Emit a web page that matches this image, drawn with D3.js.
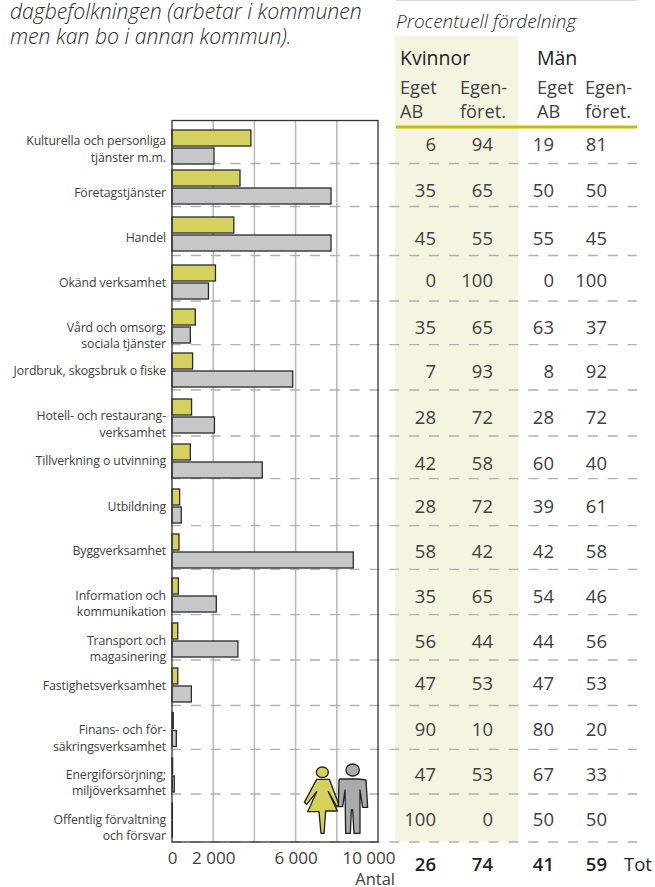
<!DOCTYPE html>
<html><head><meta charset="utf-8">
<script src="https://cdn.jsdelivr.net/npm/d3@7"></script>
<style>html,body{margin:0;padding:0;background:#fff}svg{display:block}text{font-family:"Open Sans","Noto Sans",sans-serif;fill:#404040}</style>
</head><body><div id="c"></div>
<script>
const categories=[["Kulturella och personliga","tjänster m.m."],["Företagstjänster"],["Handel"],["Okänd verksamhet"],["Vård och omsorg;","sociala tjänster"],["Jordbruk, skogsbruk o fiske"],["Hotell- och restaurang-","verksamhet"],["Tillverkning o utvinning"],["Utbildning"],["Byggverksamhet"],["Information och","kommunikation"],["Transport och","magasinering"],["Fastighetsverksamhet"],["Finans- och för-","säkringsverksamhet"],["Energiförsörjning;","miljöverksamhet"],["Offentlig förvaltning","och försvar"]];
const women=[3830,3300,3000,2110,1130,1000,950,890,370,340,310,280,280,60,30,20];
const men=[2040,7720,7720,1770,890,5860,2060,4380,450,8800,2150,3200,940,210,110,20];
const kvEget=[6,35,45,0,35,7,28,42,28,58,35,56,47,90,47,100];
const kvEgen=[94,65,55,100,65,93,72,58,72,42,65,44,53,10,53,0];
const manEget=[19,50,55,0,63,8,28,60,39,42,54,44,47,80,67,50];
const manEgen=[81,50,45,100,37,92,72,40,61,58,46,56,53,20,33,50];
const totals=[26,74,41,59];
const tickLabels=[0,2000,6000,10000];
const gridTicks=[2000,4000,6000,8000];

// layout
const W=655,H=887;
const barTops=[130,170,217,265,309,353,399,444,489,534,578,623,668,712.5,758,803];
const rowLines=[163.5,206.5,255.5,301,344.7,390,436,478.7,525.7,569.3,614.7,660,705.5,749.3,794,842];
const numBase=[151,197,245,287,334,378,424,470,513,558,603,648,690,736,781,826];
const catCentre=[[139.5,156.5],[191.5],[236.5],[282],[326.5,343],[369.5],[415,432],[460],[506],[550],[595,611],[640,656],[685],[729,746],[774,790],[819,835]];
const barH=16;
const x=d3.scaleLinear().domain([0,10000]).range([172,378]);
const idx=categories.map((d,i)=>i);
const y=d3.scaleOrdinal().domain(idx).range(barTops);
const colX=[436,493,554,607];

const svg=d3.select("#c").append("svg").attr("width",W).attr("height",H);
svg.append("rect").attr("x",396).attr("y",0).attr("width",241).attr("height",1).attr("fill","#dcdcdc");
svg.append("rect").attr("x",395).attr("y",36).attr("width",123).attr("height",805).attr("fill","#f5f4e1");

svg.selectAll(".t").data([["dagbefolkningen (arbetar i kommunen",19],["men kan bo i annan kommun).",44]]).join("text")
 .attr("x",10).attr("y",d=>d[1]).attr("font-size",21.2).attr("font-style","italic").attr("font-weight",300).attr("style","fill:#2a2a2a").text(d=>d[0]);
svg.append("text").attr("x",396).attr("y",28).attr("font-size",19).attr("font-style","italic").attr("font-weight",300).attr("style","fill:#2a2a2a").text("Procentuell fördelning");

const hdr=[["Kvinnor",400,65,19.5,500],["Män",537,65,19.5,500],["Eget",400,94,18.2,400],["AB",400,118,18.2,400],["Egen-",460,94,18.2,400],["föret.",460,118,18.2,400],["Eget",537,94,18.2,400],["AB",537,118,18.2,400],["Egen-",585,94,18.2,400],["föret.",585,118,18.2,400]];
svg.selectAll(".h").data(hdr).join("text").attr("x",d=>d[1]).attr("y",d=>d[2]).attr("font-size",d=>d[3]).attr("font-weight",d=>d[4]).attr("style",d=>d[4]==500?"fill:#222":null).text(d=>d[0]);
svg.append("rect").attr("x",396).attr("y",125.5).attr("width",241).attr("height",3).attr("fill","#c3bf00");

svg.append("g").selectAll("line").data(gridTicks).join("line").attr("x1",d=>x(d)).attr("x2",d=>x(d)).attr("y1",121).attr("y2",842).attr("stroke","#b8b8b8").attr("stroke-width",1.5);
svg.append("g").selectAll("line").data(rowLines).join("line").attr("x1",171).attr("x2",637).attr("y1",d=>d).attr("y2",d=>d).attr("stroke","#b0b0b0").attr("stroke-width",1.3).attr("stroke-dasharray","10 9.85");

const bars=svg.append("g");
bars.selectAll(".w").data(idx).join("rect").attr("x",x(0)).attr("y",i=>y(i)).attr("width",i=>x(women[i])-x(0)).attr("height",barH).attr("fill","#d4d15f").attr("stroke","#2a2a2a").attr("stroke-width",1.3);
bars.selectAll(".m").data(idx).join("rect").attr("x",x(0)).attr("y",i=>y(i)+barH+2).attr("width",i=>x(men[i])-x(0)).attr("height",barH).attr("fill","#c6c7c9").attr("stroke","#2a2a2a").attr("stroke-width",1.3);

svg.append("rect").attr("x",172).attr("y",120.5).attr("width",206).attr("height",721.5).attr("fill","none").attr("stroke","#333").attr("stroke-width",1.3);

categories.forEach((lines,i)=>lines.forEach((l,j)=>{
 svg.append("text").attr("x",166).attr("y",catCentre[i][j]+5).attr("text-anchor","end").attr("font-size",12.3).attr("font-weight",400).attr("letter-spacing",-0.1).text(l);
}));

const ax=svg.append("g").attr("transform","translate(0,842)").call(d3.axisBottom(x).tickValues(tickLabels).tickSize(0).tickPadding(10).tickFormat(d=>d3.format(",")(d).replace(",","\u00a0")));
ax.select(".domain").remove();
ax.selectAll("text").attr("font-size",17).attr("font-weight",400).attr("font-family",'"Open Sans"').attr("fill","#404040")
  .attr("text-anchor",d=>d===10000?"end":"middle").attr("dx",d=>d===10000?17:0);
svg.append("text").attr("x",395).attr("y",885).attr("text-anchor","end").attr("font-size",16.5).attr("font-weight",400).text("Antal");

[kvEget,kvEgen,manEget,manEgen].forEach((col,c)=>{
 svg.append("g").selectAll("text").data(col).join("text").attr("x",colX[c]).attr("y",(d,i)=>numBase[i]).attr("text-anchor","end").attr("font-size",18.5).attr("font-weight",400).text(d=>d);
});
svg.append("g").selectAll("text").data(totals).join("text").attr("x",(d,i)=>colX[i]).attr("y",871).attr("text-anchor","end").attr("font-size",18.5).attr("font-weight",600).attr("style","fill:#222").text(d=>d);
svg.append("text").attr("x",624).attr("y",871).attr("font-size",18.5).attr("font-weight",500).attr("style","fill:#222").text("Tot");

const fig=svg.append("g").attr("transform","translate(295,755) scale(0.3333)").attr("stroke","#222").attr("stroke-width",4).attr("stroke-linejoin","round");
fig.append("ellipse").attr("cx",82).attr("cy",52).attr("rx",18).attr("ry",16).attr("fill","#d4d15f");
fig.append("path").attr("d","M65 73H103L132 150L125 155L100 110L127 168H92L87 235H78L72 170H38L65 110L35 148L28 142Z").attr("fill","#d4d15f");
fig.append("ellipse").attr("cx",173).attr("cy",45).attr("rx",20).attr("ry",18).attr("fill","#a9aaac");
fig.append("path").attr("d","M135 72H190L213 75L218 157H203L195 105V235H177L173 165H169L166 235H152L150 105L143 155H130L132 75Z").attr("fill","#a9aaac");
</script></body></html>
